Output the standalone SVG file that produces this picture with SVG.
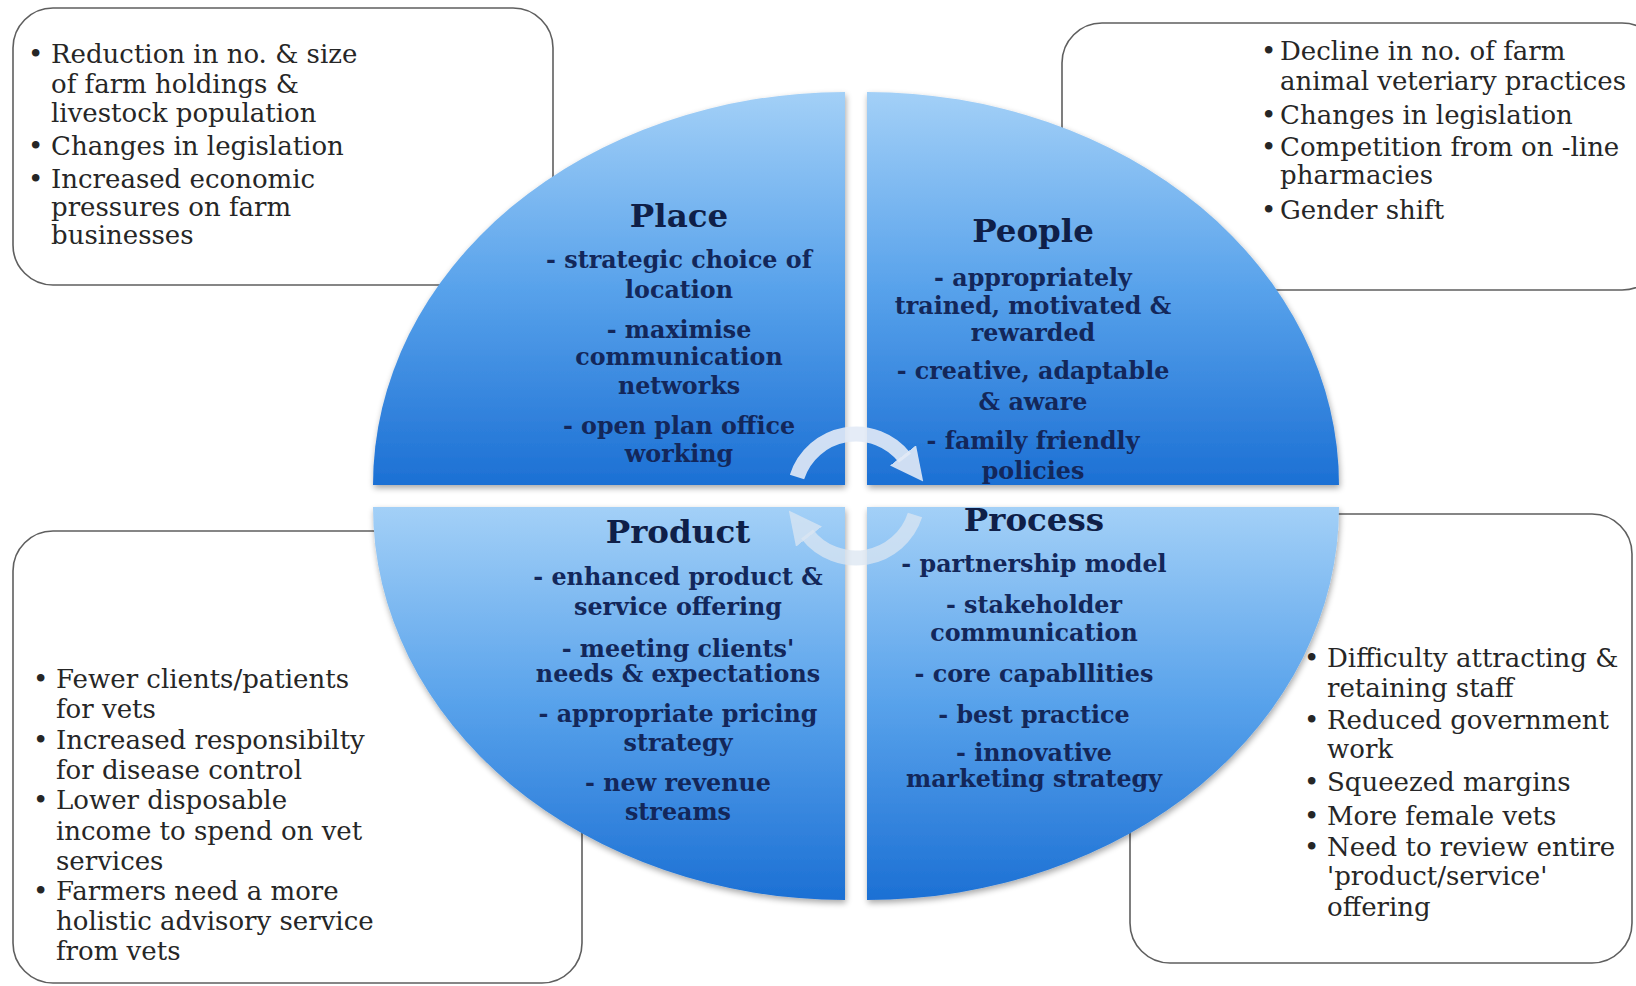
<svg xmlns="http://www.w3.org/2000/svg" width="1636" height="986" viewBox="0 0 1636 986">
<defs>
<style>
.box{fill:#ffffff;stroke:#5f5f5f;stroke-width:1.6}
.bt{font-family:"DejaVu Serif","Liberation Serif",serif;font-size:26px;fill:#262626}
.qt{font-family:"DejaVu Serif","Liberation Serif",serif;font-size:23.8px;font-weight:bold;fill:#13275a;text-anchor:middle}
.qh{font-family:"DejaVu Serif","Liberation Serif",serif;font-size:32.5px;font-weight:bold;fill:#0f1f48;text-anchor:middle}
.quad{fill:url(#qg);filter:url(#sh)}
.arr{fill:none;stroke:#e2eaf6;stroke-width:15;stroke-opacity:0.9}
.arr2{fill:none;stroke:#dbe5f2;stroke-width:15;stroke-opacity:0.75}
</style>
<linearGradient id="qg" x1="0" y1="0" x2="0" y2="1">
<stop offset="0" stop-color="#a3d0f7"/>
<stop offset="0.5" stop-color="#58a2eb"/>
<stop offset="1" stop-color="#1c70d4"/>
</linearGradient>
<filter id="sh" x="-5%" y="-5%" width="110%" height="115%">
<feGaussianBlur in="SourceAlpha" stdDeviation="3"/>
<feOffset dx="1" dy="3" result="b"/>
<feComponentTransfer><feFuncA type="linear" slope="0.35"/></feComponentTransfer>
<feMerge><feMergeNode/><feMergeNode in="SourceGraphic"/></feMerge>
</filter>
<marker id="ah" viewBox="0 0 10 10" refX="1" refY="5" markerWidth="2.2" markerHeight="2.2" orient="auto" markerUnits="strokeWidth">
<path d="M0,0 L10,5 L0,10 z" fill="#e2eaf6" fill-opacity="0.9"/>
</marker>
<marker id="ah2" viewBox="0 0 10 10" refX="1" refY="5" markerWidth="2.2" markerHeight="2.2" orient="auto" markerUnits="strokeWidth">
<path d="M0,0 L10,5 L0,10 z" fill="#dbe5f2" fill-opacity="0.75"/>
</marker>
</defs>
<rect width="1636" height="986" fill="#ffffff"/>

<g id="box-top-left">
<rect class="box" x="13" y="8" width="540" height="277" rx="40"/>
<text class="bt"><tspan x="28" y="63">•</tspan><tspan x="51" y="63">Reduction in no. &amp; size</tspan><tspan x="51" y="93">of farm holdings &amp;</tspan><tspan x="51" y="122">livestock population</tspan><tspan x="28" y="155">•</tspan><tspan x="51" y="155">Changes in legislation</tspan><tspan x="28" y="188">•</tspan><tspan x="51" y="188">Increased economic</tspan><tspan x="51" y="216">pressures on farm</tspan><tspan x="51" y="244">businesses</tspan></text>
</g>

<g id="box-top-right">
<rect class="box" x="1062" y="23" width="600" height="267" rx="40"/>
<text class="bt"><tspan x="1261" y="60">•</tspan><tspan x="1280" y="60">Decline in no. of farm</tspan><tspan x="1280" y="90">animal veteriary practices</tspan><tspan x="1261" y="124">•</tspan><tspan x="1280" y="124">Changes in legislation</tspan><tspan x="1261" y="156">•</tspan><tspan x="1280" y="156">Competition from on -line</tspan><tspan x="1280" y="184">pharmacies</tspan><tspan x="1261" y="219">•</tspan><tspan x="1280" y="219">Gender shift</tspan></text>
</g>

<g id="box-bottom-left">
<rect class="box" x="13" y="531" width="569" height="452" rx="40"/>
<text class="bt"><tspan x="33" y="688">•</tspan><tspan x="56" y="688">Fewer clients/patients</tspan><tspan x="56" y="718">for vets</tspan><tspan x="33" y="749">•</tspan><tspan x="56" y="749">Increased responsibilty</tspan><tspan x="56" y="779">for disease control</tspan><tspan x="33" y="809">•</tspan><tspan x="56" y="809">Lower disposable</tspan><tspan x="56" y="840">income to spend on vet</tspan><tspan x="56" y="870">services</tspan><tspan x="33" y="900">•</tspan><tspan x="56" y="900">Farmers need a more</tspan><tspan x="56" y="930">holistic advisory service</tspan><tspan x="56" y="960">from vets</tspan></text>
</g>

<g id="box-bottom-right">
<rect class="box" x="1130" y="514" width="502" height="449" rx="40"/>
<text class="bt"><tspan x="1304" y="667">•</tspan><tspan x="1327" y="667">Difficulty attracting &amp;</tspan><tspan x="1327" y="697">retaining staff</tspan><tspan x="1304" y="729">•</tspan><tspan x="1327" y="729">Reduced government</tspan><tspan x="1327" y="758">work</tspan><tspan x="1304" y="791">•</tspan><tspan x="1327" y="791">Squeezed margins</tspan><tspan x="1304" y="825">•</tspan><tspan x="1327" y="825">More female vets</tspan><tspan x="1304" y="856">•</tspan><tspan x="1327" y="856">Need to review entire</tspan><tspan x="1327" y="885">'product/service'</tspan><tspan x="1327" y="916">offering</tspan></text>
</g>

<g id="place">
<path class="quad" d="M845,485 L373,485 A472,393 0 0 1 845,92 Z"/>
<text class="qh" x="679" y="227">Place</text>
<text class="qt"><tspan x="679" y="268">- strategic choice of</tspan><tspan x="679" y="298">location</tspan><tspan x="679" y="338">- maximise</tspan><tspan x="679" y="365">communication</tspan><tspan x="679" y="394">networks</tspan><tspan x="679" y="434">- open plan office</tspan><tspan x="679" y="462">working</tspan></text>
</g>

<g id="people">
<path class="quad" d="M867,485 L867,92 A472,393 0 0 1 1339,485 Z"/>
<text class="qh" x="1033" y="242">People</text>
<text class="qt"><tspan x="1033" y="286">- appropriately</tspan><tspan x="1033" y="314">trained, motivated &amp;</tspan><tspan x="1033" y="341">rewarded</tspan><tspan x="1033" y="379">- creative, adaptable</tspan><tspan x="1033" y="410">&amp; aware</tspan><tspan x="1033" y="449">- family friendly</tspan><tspan x="1033" y="479">policies</tspan></text>
</g>

<g id="product">
<path class="quad" d="M845,507 L845,900 A472,393 0 0 1 373,507 Z"/>
<text class="qh" x="678" y="543">Product</text>
<text class="qt"><tspan x="678" y="585">- enhanced product &amp;</tspan><tspan x="678" y="615">service offering</tspan><tspan x="678" y="657">- meeting clients'</tspan><tspan x="678" y="682">needs &amp; expectations</tspan><tspan x="678" y="722">- appropriate pricing</tspan><tspan x="678" y="751">strategy</tspan><tspan x="678" y="791">- new revenue</tspan><tspan x="678" y="820">streams</tspan></text>
</g>

<g id="process">
<path class="quad" d="M867,507 L1339,507 A472,393 0 0 1 867,900 Z"/>
<text class="qh" x="1034" y="531">Process</text>
<text class="qt"><tspan x="1034" y="572">- partnership model</tspan><tspan x="1034" y="613">- stakeholder</tspan><tspan x="1034" y="641">communication</tspan><tspan x="1034" y="682">- core capabllities</tspan><tspan x="1034" y="723">- best practice</tspan><tspan x="1034" y="761">- innovative</tspan><tspan x="1034" y="787">marketing strategy</tspan></text>
</g>

<g id="connectors">
<path class="arr" d="M797,477 A62,62 0 0 1 905,458" marker-end="url(#ah)"/>
<path class="arr2" d="M915,515 A62,62 0 0 1 807,534" marker-end="url(#ah2)"/>
</g>
</svg>
